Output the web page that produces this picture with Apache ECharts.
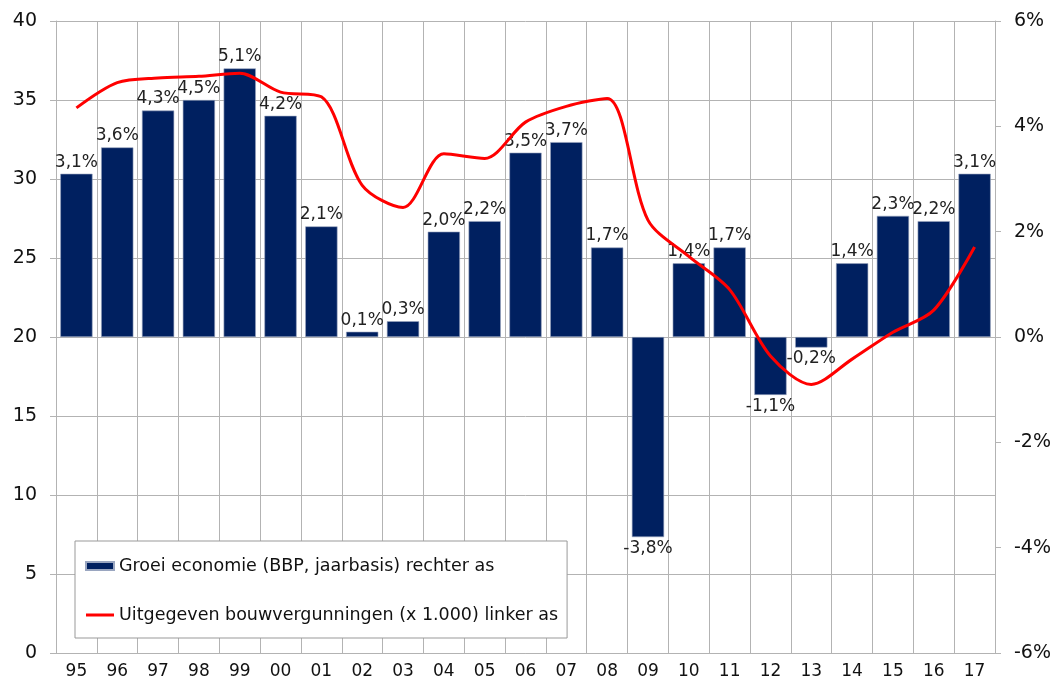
<!DOCTYPE html>
<html>
<head>
<meta charset="utf-8">
<script src="https://cdn.jsdelivr.net/npm/echarts@6/dist/echarts.min.js"></script>
<style>
  html, body { margin: 0; padding: 0; background: #fff; }
  #chart { width: 1057px; height: 685px; }
</style>
</head>
<body>
<div id="chart"></div>
<script>
const years = ["95", "96", "97", "98", "99", "00", "01", "02", "03", "04", "05", "06",
  "07", "08", "09", "10", "11", "12", "13", "14", "15", "16", "17"];

// groei economie, % (rechter as)
const growth = [3.1, 3.6, 4.3, 4.5, 5.1, 4.2, 2.1, 0.1, 0.3, 2.0, 2.2, 3.5,
  3.7, 1.7, -3.8, 1.4, 1.7, -1.1, -0.2, 1.4, 2.3, 2.2, 3.1];

// bouwvergunningen x 1.000 (linker as)
const permits = [34.5, 36.1, 36.4, 36.5, 36.7, 35.5, 35.2, 29.6, 28.2, 31.6, 31.3, 33.6,
  34.6, 35.1, 27.4, 25.1, 23.0, 18.8, 17.0, 18.6, 20.3, 21.7, 25.7];

const barName = "Groei economie (BBP, jaarbasis) rechter as";
const lineName = "Uitgegeven bouwvergunningen (x 1.000) linker as";

const font = "DejaVu Sans, Verdana, sans-serif";
const gridColor = "#b3b3b3";

function pct(v) {
  return v.toFixed(1).replace(".", ",") + "%";
}

const chart = echarts.init(document.getElementById("chart"));

chart.setOption({
  animation: false,
  textStyle: { fontFamily: font },
  grid: { left: 56, right: 62, top: 21, bottom: 32, containLabel: false },
  legend: {
    orient: "vertical",
    left: 75,
    top: 541,
    padding: [15, 9, 13, 10],
    itemGap: 29,
    itemWidth: 28,
    itemHeight: 8,
    backgroundColor: "#fff",
    borderColor: "#999",
    borderWidth: 1,
    borderRadius: 0,
    textStyle: { fontFamily: font, fontSize: 17.5, color: "#111", lineHeight: 20 },
    data: [
      { name: barName, icon: "rect" },
      { name: lineName, icon: "path://M0,0H28V3H0Z" },
    ],
  },
  xAxis: {
    type: "category",
    data: years,
    boundaryGap: true,
    axisLine: { lineStyle: { color: gridColor } },
    axisTick: { show: false },
    axisLabel: { color: "#111", fontSize: 17, margin: 10, interval: 0 },
    splitLine: { show: true, interval: 0, lineStyle: { color: gridColor } },
  },
  yAxis: [
    {
      type: "value",
      min: 0,
      max: 40,
      interval: 5,
      position: "left",
      axisLine: { show: true, lineStyle: { color: gridColor } },
      axisTick: { show: true, length: 6, lineStyle: { color: gridColor } },
      axisLabel: { color: "#111", fontSize: 19, margin: 19 },
      splitLine: { show: true, lineStyle: { color: gridColor } },
    },
    {
      type: "value",
      min: -6,
      max: 6,
      interval: 2,
      position: "right",
      axisLine: { show: true, lineStyle: { color: gridColor } },
      axisTick: { show: true, length: 6, lineStyle: { color: gridColor } },
      axisLabel: { color: "#111", fontSize: 19, margin: 19, formatter: "{value}%" },
      splitLine: { show: false },
    },
  ],
  series: [
    {
      name: barName,
      type: "bar",
      yAxisIndex: 1,
      barCategoryGap: "21%",
      itemStyle: { color: "#002060", borderColor: "#9aa6c0", borderWidth: 0.6 },
      label: {
        show: true,
        fontFamily: font,
        fontSize: 17,
        color: "#222",
        distance: 3,
        formatter: (p) => pct(p.value),
      },
      data: growth.map((v) => ({
        value: v,
        label: { position: v < 0 ? "bottom" : "top" },
      })),
      z: 2,
    },
    {
      name: lineName,
      type: "line",
      yAxisIndex: 0,
      smooth: 0.3,
      symbol: "none",
      showSymbol: false,
      lineStyle: { color: "#ff0000", width: 3 },
      itemStyle: { color: "#ff0000" },
      data: permits,
      z: 3,
    },
  ],
});
</script>
</body>
</html>
